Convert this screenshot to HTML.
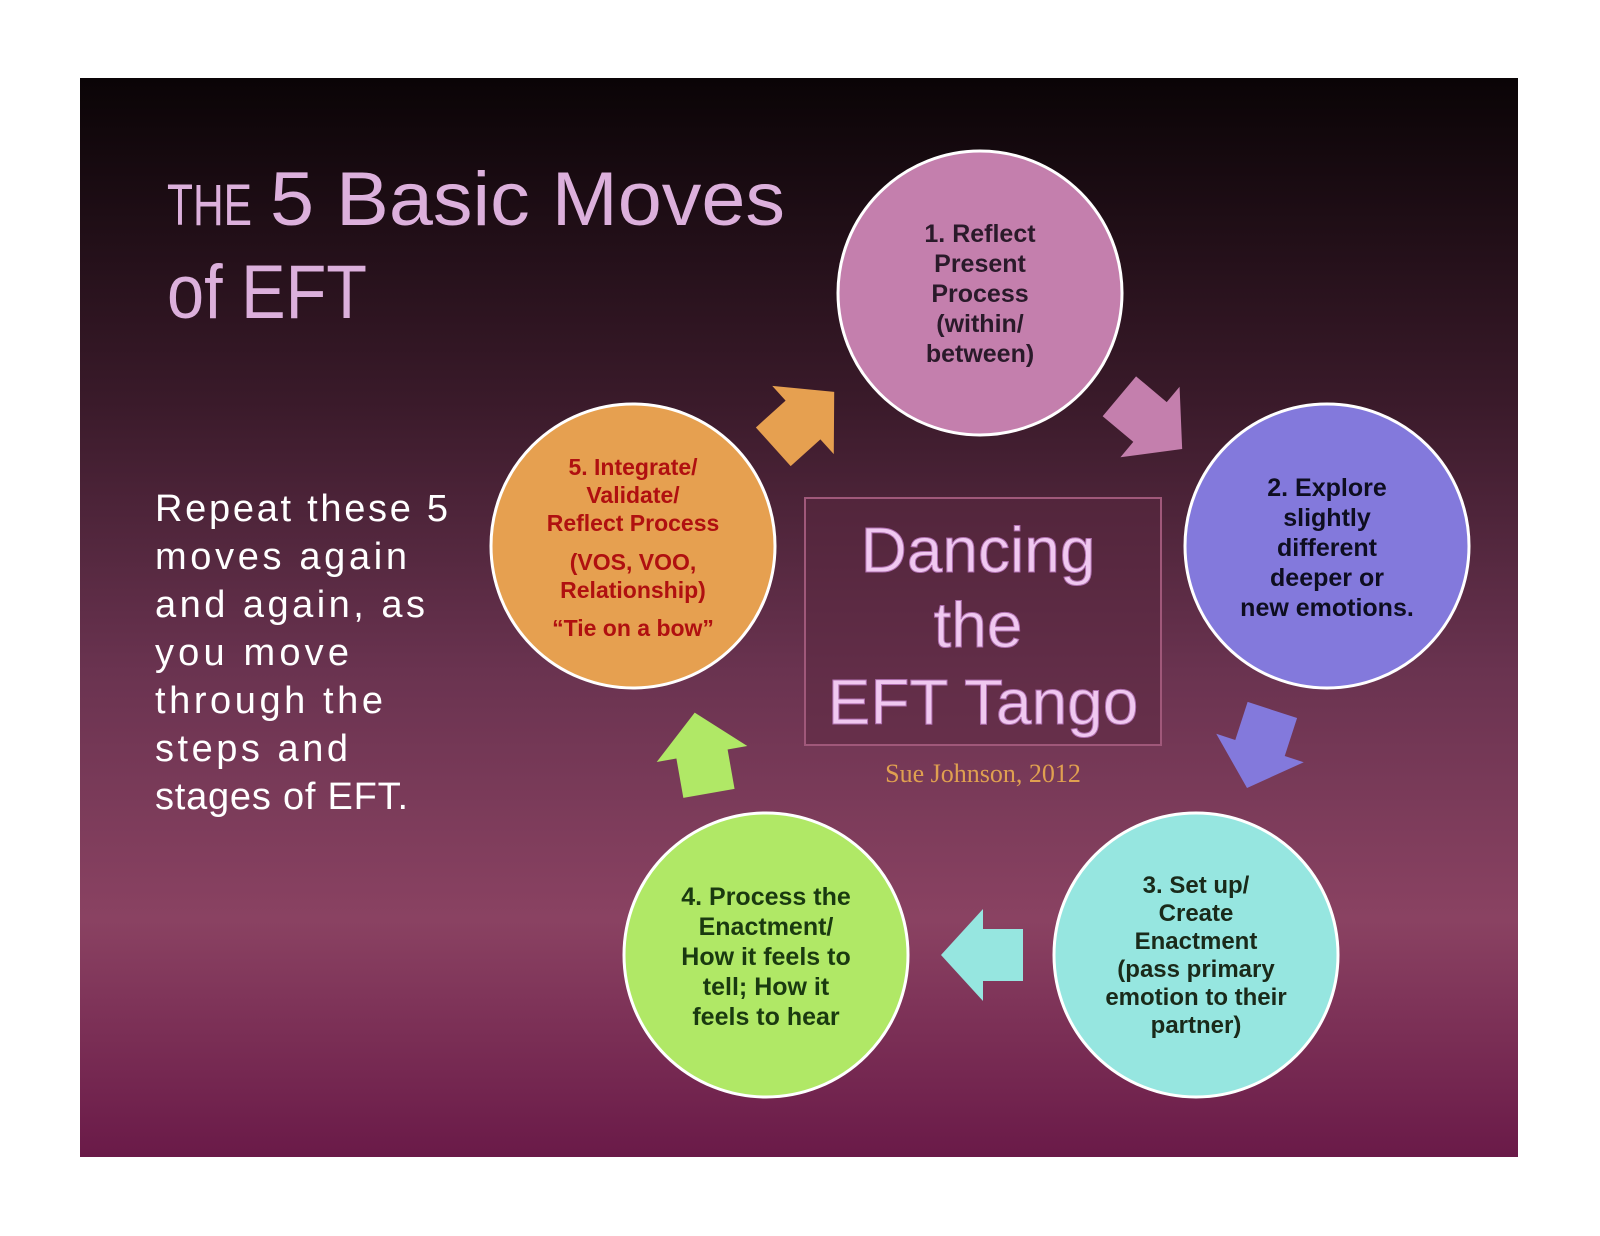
<!DOCTYPE html>
<html><head><meta charset="utf-8"><style>
html,body{margin:0;padding:0;background:#fff;}
svg{display:block}
</style></head><body>
<svg width="1600" height="1236" viewBox="0 0 1600 1236" xmlns="http://www.w3.org/2000/svg" font-family="Liberation Sans, DejaVu Sans, sans-serif">
<defs>
<linearGradient id="bg" x1="0" y1="0" x2="0" y2="1">
<stop offset="0" stop-color="#0a0406"/>
<stop offset="0.3" stop-color="#3a1a2a"/>
<stop offset="0.55" stop-color="#6a3350"/>
<stop offset="0.78" stop-color="#8a4262"/>
<stop offset="1" stop-color="#6a1a48"/>
</linearGradient>
<polygon id="ar" points="-40,-26 0,-26 0,-46 42,0 0,46 0,26 -40,26"/>
</defs>
<rect x="80" y="78" width="1438" height="1079" fill="url(#bg)"/>

<g fill="#dcb0dc">
<text x="167" y="225" font-size="58" textLength="85" lengthAdjust="spacingAndGlyphs">THE</text>
<text x="270" y="225" font-size="76" textLength="515" lengthAdjust="spacingAndGlyphs">5 Basic Moves</text>
<text x="167" y="318" font-size="76" textLength="200" lengthAdjust="spacingAndGlyphs">of EFT</text>
</g>
<g fill="#ffffff" font-size="38" lengthAdjust="spacingAndGlyphs">
<text x="155" y="521" textLength="293">Repeat these 5</text>
<text x="155" y="569" textLength="252">moves again</text>
<text x="155" y="617" textLength="270">and again, as</text>
<text x="155" y="665" textLength="194">you move</text>
<text x="155" y="713" textLength="228">through the</text>
<text x="155" y="761" textLength="193">steps and</text>
<text x="155" y="809" textLength="253">stages of EFT.</text>
</g>

<!-- arrows -->
<use href="#ar" fill="#e6a050" transform="translate(803,420) rotate(-42)"/>
<use href="#ar" fill="#c47fad" transform="translate(1150,422) rotate(40)"/>
<use href="#ar" fill="#8379dc" transform="translate(1260,748) rotate(108)"/>
<use href="#ar" fill="#96e6e0" transform="translate(983,955) rotate(180)"/>
<use href="#ar" fill="#b0e866" transform="translate(702,754) rotate(-100)"/>

<!-- center box -->
<rect x="805" y="498" width="356" height="247" fill="#5a2840" fill-opacity="0.5" stroke="#a0587a" stroke-width="2"/>
<g fill="#f0c8f0" stroke="#b070b0" stroke-width="1" font-size="64" text-anchor="middle">
<text x="978" y="572">Dancing</text>
<text x="978" y="647">the</text>
<text x="983" y="724">EFT Tango</text>
</g>
<text x="983" y="782" fill="#e0a050" font-size="26" text-anchor="middle" font-family="Liberation Serif, serif">Sue Johnson, 2012</text>

<!-- circles -->
<g stroke="#ffffff" stroke-width="3">
<circle cx="980" cy="293" r="142" fill="#c47fad"/>
<circle cx="1327" cy="546" r="142" fill="#8379dc"/>
<circle cx="1196" cy="955" r="142" fill="#96e6e0"/>
<circle cx="766" cy="955" r="142" fill="#b0e866"/>
<circle cx="633" cy="546" r="142" fill="#e6a050"/>
</g>

<g font-weight="bold" font-size="25" text-anchor="middle">
<g fill="#2a1a2a">
<text x="980" y="242">1. Reflect</text>
<text x="980" y="272">Present</text>
<text x="980" y="302">Process</text>
<text x="980" y="332">(within/</text>
<text x="980" y="362">between)</text>
</g>
<g fill="#0e0e20">
<text x="1327" y="496">2. Explore</text>
<text x="1327" y="526">slightly</text>
<text x="1327" y="556">different</text>
<text x="1327" y="586">deeper or</text>
<text x="1327" y="616">new emotions.</text>
</g>
<g fill="#1a2a1a" font-size="24">
<text x="1196" y="893">3. Set up/</text>
<text x="1196" y="921">Create</text>
<text x="1196" y="949">Enactment</text>
<text x="1196" y="977">(pass primary</text>
<text x="1196" y="1005">emotion to their</text>
<text x="1196" y="1033">partner)</text>
</g>
<g fill="#1a3a10">
<text x="766" y="905">4. Process the</text>
<text x="766" y="935">Enactment/</text>
<text x="766" y="965">How it feels to</text>
<text x="766" y="995">tell; How it</text>
<text x="766" y="1025">feels to hear</text>
</g>
<g fill="#b01010" font-size="23">
<text x="633" y="475">5. Integrate/</text>
<text x="633" y="503">Validate/</text>
<text x="633" y="531">Reflect Process</text>
<text x="633" y="570">(VOS, VOO,</text>
<text x="633" y="598">Relationship)</text>
<text x="633" y="636">“Tie on a bow”</text>
</g>
</g>
</svg>
</body></html>
